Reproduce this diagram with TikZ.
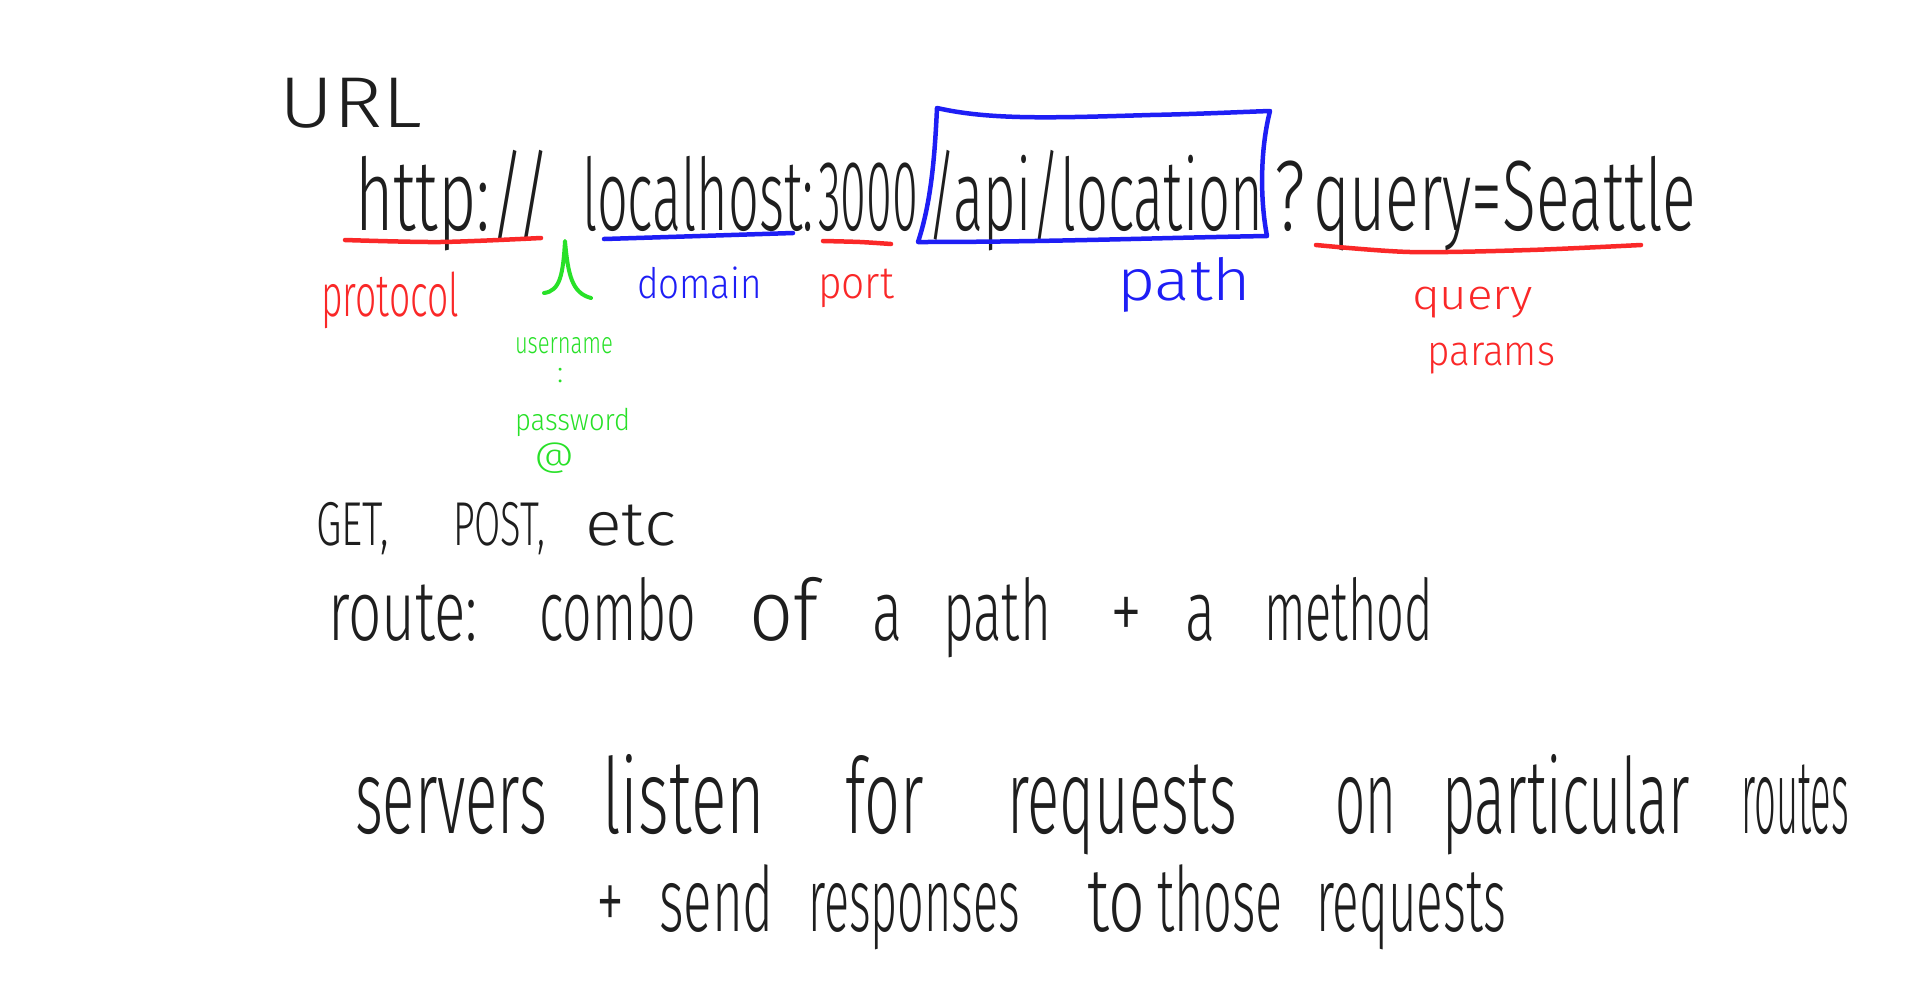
\documentclass[tikz,border=0pt]{standalone}
\usepackage{fontspec}
\setmainfont{Fira Sans Light}
\usepackage{graphicx}
\definecolor{ink}{RGB}{30,30,30}
\definecolor{penred}{RGB}{250,40,40}
\definecolor{penblue}{RGB}{30,30,245}
\definecolor{pengreen}{RGB}{40,225,40}
\newcommand{\fitw}[2]{\resizebox{#1pt}{\height}{#2}}
\tikzset{
  wd/.style={anchor=base west,inner sep=0pt,outer sep=0pt,text=ink},
  fs/.style={font=\fontsize{#1}{#1}\selectfont},
  redlbl/.style={wd,text=penred},
  bluelbl/.style={wd,text=penblue},
  greenlbl/.style={wd,text=pengreen},
  redpen/.style={draw=penred,line width=4.5pt,line cap=round,line join=round},
  bluepen/.style={draw=penblue,line width=4.5pt,line cap=round,line join=round},
  greenpen/.style={draw=pengreen,line width=4pt,line cap=round,line join=round}
}
\begin{document}
\begin{tikzpicture}[x=1pt,y=-1pt]
\useasboundingbox[fill=white] (0,0) rectangle (1920,997);

% title
\node[wd,fs=72] (url) at (279,127) {\fitw{143}{URL}};

% URL line
\node[wd,fs=100] (proto) at (355,230) {\fitw{196}{http://}};
\node[wd,fs=100] (host) at (582,230) {\fitw{232}{localhost:}};
\node[wd,fs=100] (port) at (818,230) {\fitw{100}{3000}};
\node[wd,fs=100] (path) at (927,230) {\fitw{336}{/api/location}};
\node[wd,fs=100] (qm) at (1274,230) {\fitw{31}{?}};
\node[wd,fs=100] (query) at (1313,230) {\fitw{383}{query=Seattle}};

% path box
\coordinate (btl) at (937,108);
\coordinate (btr) at (1270,111);
\coordinate (bbr) at (1267,236);
\coordinate (bbl) at (918,242);
\draw[bluepen] (btl) .. controls (990,120) and (1050,118) .. (1150,115) .. controls (1200,114) and (1240,112) .. (btr)
  .. controls (1260,150) and (1260,200) .. (bbr)
  .. controls (1150,238) and (1050,242) .. (bbl)
  .. controls (932,200) and (935,150) .. cycle;

% underlines
\draw[redpen] plot[smooth,tension=0.5] coordinates {(345,240) (440,242) (541,238)};
\draw[bluepen] plot[smooth,tension=0.5] coordinates {(604,239) (700,236) (793,233)};
\draw[redpen] plot[smooth,tension=0.5] coordinates {(823,241) (860,242) (891,244)};
\draw[redpen] plot[smooth,tension=0.5] coordinates {(1316,245) (1410,252) (1530,250) (1641,245)};

% green caret
\coordinate (caretpeak) at (565,241);
\draw[greenpen] (544,293) .. controls (560,291) and (563,275) .. (caretpeak) .. controls (568,275) and (572,293) .. (591,298);

% labels
\node[redlbl,fs=60] (lproto) at (321,316) {\fitw{138}{protocol}};
\node[bluelbl,fs=42] (ldomain) at (637,298) {\fitw{125}{domain}};
\node[redlbl,fs=45] (lport) at (818,298) {\fitw{76}{port}};
\node[bluelbl,fs=58] (lpath) at (1117,300) {\fitw{134}{path}};
\node[redlbl,fs=42] (lquery) at (1412,309) {\fitw{121}{query}};
\node[redlbl,fs=42] (lparams) at (1427,365) {\fitw{128}{params}};
\node[greenlbl,fs=30] (luser) at (515,353) {\fitw{98}{username}};
\node[greenlbl,fs=30] (lcolon) at (557,382) {:};
\node[greenlbl,fs=30] (lpass) at (515,430) {\fitw{115}{password}};
\node[greenlbl,fs=34] (lat) at (534,466) {\fitw{40}{@}};

% GET line
\node[wd,fs=62] (get) at (316,545) {\fitw{73}{GET,}};
\node[wd,fs=62] (post) at (453,545) {\fitw{92}{POST,}};
\node[wd,fs=62] (etc) at (585,545) {\fitw{91}{etc}};

% route line
\node[wd,fs=85] (r1) at (328,640) {\fitw{150}{route:}};
\node[wd,fs=85] (r2) at (539,640) {\fitw{157}{combo}};
\node[wd,fs=85] (r3) at (749,640) {\fitw{69}{of}};
\node[wd,fs=85] (r4) at (872,640) {\fitw{30}{a}};
\node[wd,fs=85] (r5) at (943,640) {\fitw{108}{path}};
\node[wd,fs=85] (r6) at (1110,640) {\fitw{32}{+}};
\node[wd,fs=85] (r7) at (1185,640) {\fitw{30}{a}};
\node[wd,fs=85] (r8) at (1264,640) {\fitw{169}{method}};

% servers line
\node[wd,fs=105] (s1) at (355,833) {\fitw{192}{servers}};
\node[wd,fs=105] (s2) at (602,833) {\fitw{163}{listen}};
\node[wd,fs=105] (s3) at (845,833) {\fitw{79}{for}};
\node[wd,fs=105] (s4) at (1007,833) {\fitw{230}{requests}};
\node[wd,fs=105] (s5) at (1335,833) {\fitw{61}{on}};
\node[wd,fs=105] (s6) at (1442,833) {\fitw{248}{particular}};
\node[wd,fs=105] (s7) at (1741,833) {\fitw{108}{routes}};

% send line
\node[wd,fs=90] (t1) at (596,931) {\fitw{28}{+}};
\node[wd,fs=90] (t2) at (659,931) {\fitw{115}{send}};
\node[wd,fs=90] (t3) at (808,931) {\fitw{212}{responses}};
\node[wd,fs=90] (t4) at (1087,931) {\fitw{58}{to}};
\node[wd,fs=90] (t5) at (1157,931) {\fitw{126}{those}};
\node[wd,fs=90] (t6) at (1316,931) {\fitw{190}{requests}};
\end{tikzpicture}
\end{document}
